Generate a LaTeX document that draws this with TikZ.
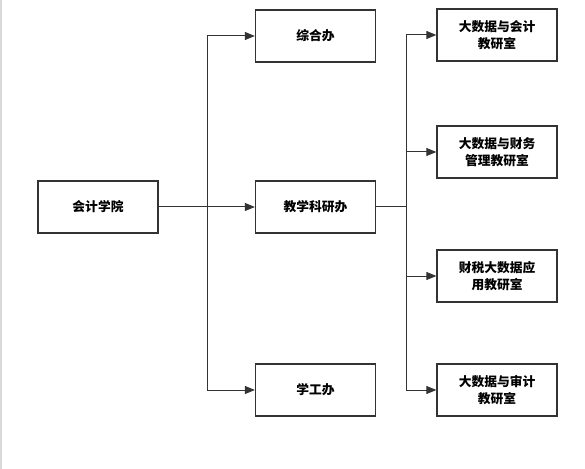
\documentclass[tikz,border=0pt]{standalone}
\usepackage{fontspec}
\usepackage{tikz}
\usetikzlibrary{arrows.meta,positioning,calc}
\newfontfamily\cjk{Noto Sans CJK SC}
\definecolor{linegray}{HTML}{333333}

\begin{document}
\begin{tikzpicture}[
  x=1bp, y=-1bp,
  unit/.style={rectangle, draw=linegray, line width=1.3bp, fill=white,
               minimum width=120bp, minimum height=52bp,
               font=\cjk\bfseries\fontsize{12.8}{17}\selectfont, align=center, inner sep=2pt},
  link/.style={draw=linegray, line width=1bp},
  >={Triangle[length=10bp,width=8bp]}
]
  \useasboundingbox (0,0) rectangle (585,469);
  \fill[gray!30] (0,0) rectangle (2,469);

  \node[unit] (xy) at (98,207)   {会计学院};
  \node[unit] (zh) at (315.5,36) {综合办};
  \node[unit] (jk) at (315.5,207){教学科研办};
  \node[unit] (xg) at (315.5,390){学工办};

  \node[unit] (r1) at (497,35)   {大数据与会计\\教研室};
  \node[unit] (r2) at (497,152)  {大数据与财务\\管理教研室};
  \node[unit] (r3) at (497,276)  {财税大数据应\\用教研室};
  \node[unit] (r4) at (497,390)  {大数据与审计\\教研室};

  \coordinate (j1) at (207,207);
  \coordinate (j2) at (406,207);

  \draw[link,->] (xy) -- (jk);
  \draw[link,->] (j1) |- (zh);
  \draw[link,->] (j1) |- (xg);

  \draw[link] (jk) -- (j2);
  \draw[link,->] (j2) |- (r1);
  \draw[link,->] (j2) |- (r2);
  \draw[link,->] (j2) |- (r3);
  \draw[link,->] (j2) |- (r4);
\end{tikzpicture}
\end{document}
